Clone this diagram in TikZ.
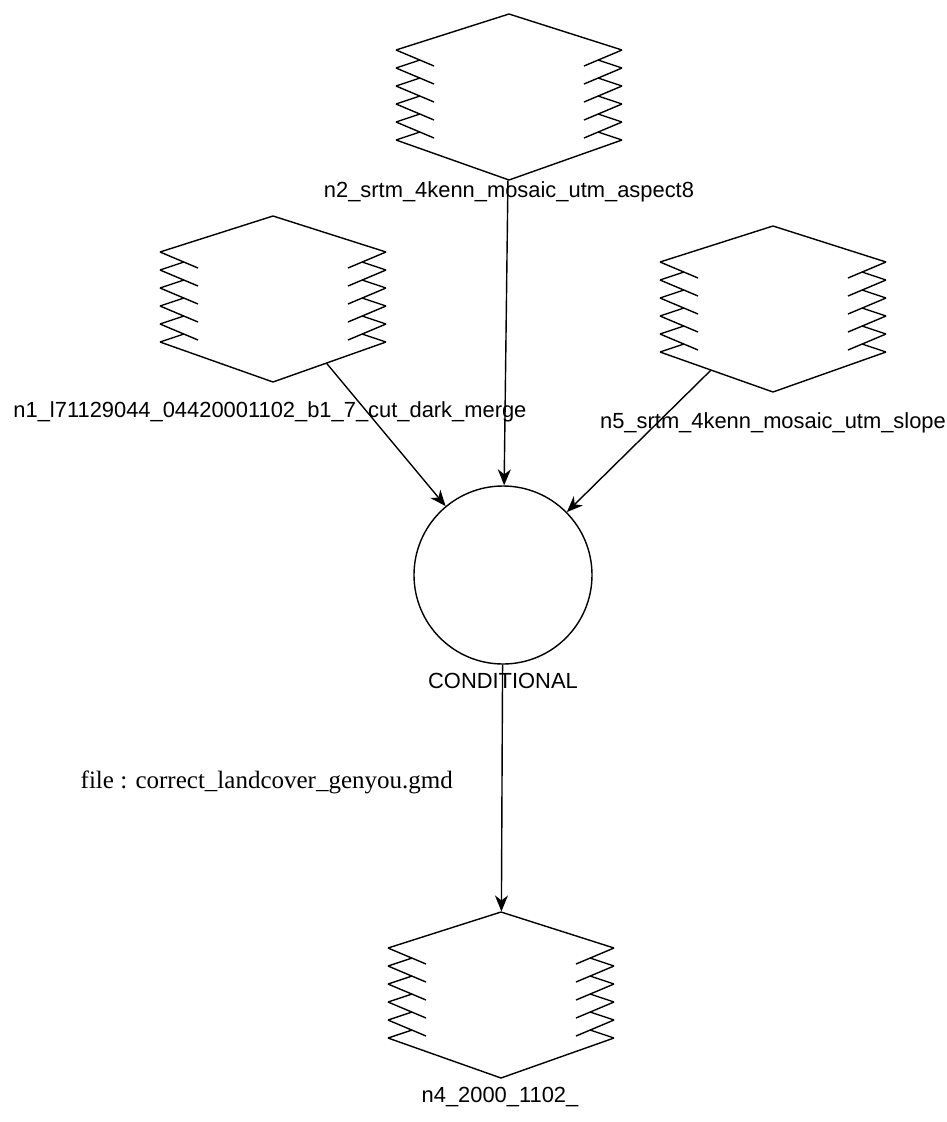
\documentclass[tikz,border=0pt]{standalone}
\usepackage{fontspec}
\setmainfont{Liberation Serif}
\setsansfont{Liberation Sans}
\usetikzlibrary{shapes.geometric,arrows.meta}

\tikzset{
  rasterframe/.pic={
    \draw (-113,-47) -- (0,-83) -- (113,-47);
    \draw (-113,43) -- (0,83) -- (113,43);
    \foreach \y in {-47,-29,-11,7,25} {
      \draw (-113,\y) -- (-75,\y+16);
      \draw (113,\y) -- (75,\y+16);
    }
    \foreach \y in {-29,-11,7,25,43} {
      \draw (-113,\y) -- (-89,\y-8);
      \draw (113,\y) -- (89,\y-8);
    }
  }
}

\begin{document}
\begin{tikzpicture}[x=1pt,y=-1pt,line width=1.4pt,
    raster/.style={diamond,minimum width=469pt,minimum height=166pt,inner sep=0pt,overlay},
    test/.style={circle,draw,minimum size=178pt,inner sep=0pt},
    tag/.style={font=\sffamily\fontsize{21.9}{26}\selectfont,inner sep=0pt},
    flow/.style={-{Stealth[length=16pt,width=13pt,inset=5pt]}}]
  \useasboundingbox (0,0) rectangle (947,1122);
  \node[raster] (n2) at (509,97) {};
  \node[raster] (n1) at (273,299) {};
  \node[raster] (n5) at (773,309) {};
  \node[test] (c) at (503,575) {};
  \node[raster] (n4) at (501,995) {};
  \foreach \n in {n1,n2,n4,n5} \pic at (\n) {rasterframe};
  % labels
  \node[tag] (n2t) at (509,192) {n2\_srtm\_4kenn\_mosaic\_utm\_aspect8};
  \node[tag] (n1t) at (270,412) {n1\_l71129044\_04420001102\_b1\_7\_cut\_dark\_merge};
  \node[tag] (n5t) at (773,423) {n5\_srtm\_4kenn\_mosaic\_utm\_slope};
  \node[tag] (ct) at (503,681) {CONDITIONAL};
  \node[tag] (n4t) at (500,1097) {n4\_2000\_1102\_};
  \node[font=\rmfamily\fontsize{25}{30}\selectfont,anchor=west,inner sep=0pt] (file) at (80,782) {file : correct\_landcover\_genyou.gmd};
  \draw[flow] (n1) -- (c);
  \draw[flow] (n2) -- (c);
  \draw[flow] (n5) -- (c);
  \draw[flow] (c) -- (n4);
\end{tikzpicture}
\end{document}
